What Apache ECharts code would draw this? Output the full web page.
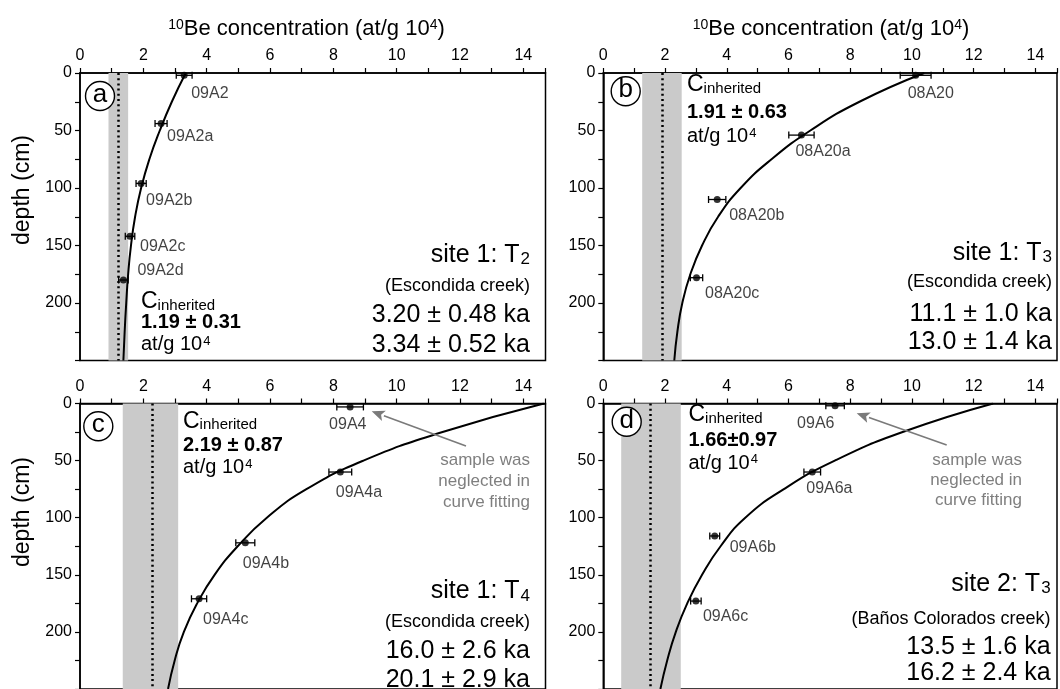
<!DOCTYPE html>
<html><head><meta charset="utf-8">
<script src="https://cdn.jsdelivr.net/npm/echarts@6/dist/echarts.min.js"></script>
<style>html,body{margin:0;padding:0;background:#fff}#c{width:1060px;height:689px}</style>
</head><body><div id="c"></div>
<script>
// ================= DATA =================
// concentration axis (10Be, at/g 10^4) and depth axis (cm)
const concMax = 14.7;
const depthMax = 250;
const curveDepths = [0, 25, 50, 75, 100, 125, 150, 175, 200, 225, 250];

// panel a : site 1 T2
const namesA = ['09A2', '09A2a', '09A2b', '09A2c', '09A2d'];
const concA  = [3.29, 2.56, 1.93, 1.58, 1.37];
const depthA = [2, 44, 96, 142, 180];
const errA   = [0.25, 0.19, 0.16, 0.15, 0.15];
const curveA = [3.34, 2.90, 2.52, 2.19, 1.93, 1.74, 1.61, 1.52, 1.46, 1.41, 1.37];
const bandA  = [0.90, 1.52];
const inhA   = 1.22;

// panel b : site 1 T3
const namesB = ['08A20', '08A20a', '08A20b', '08A20c'];
const concB  = [10.12, 6.42, 3.69, 3.02];
const depthB = [2, 54, 110, 178];
const errB   = [0.50, 0.41, 0.28, 0.20];
const curveB = [10.4, 8.3, 6.71, 5.45, 4.45, 3.72, 3.20, 2.82, 2.56, 2.40, 2.30];
const bandB  = [1.26, 2.54];
const inhB   = 1.92;

// panel c : site 1 T4
const namesC = ['09A4', '09A4a', '09A4b', '09A4c'];
const concC  = [8.53, 8.22, 5.22, 3.76];
const depthC = [3, 60, 122, 171];
const errC   = [0.42, 0.36, 0.30, 0.24];
const curveC = [14.65, 11.45, 8.95, 7.15, 5.90, 4.98, 4.25, 3.70, 3.28, 2.99, 2.78];
const bandC  = [1.35, 3.10];
const inhC   = 2.28;

// panel d : site 2 T3
const namesD = ['09A6', '09A6a', '09A6b', '09A6c'];
const concD  = [7.51, 6.77, 3.61, 3.00];
const depthD = [2, 60, 116, 173];
const errD   = [0.30, 0.27, 0.16, 0.17];
const curveD = [12.63, 9.70, 7.50, 5.85, 4.60, 3.80, 3.20, 2.72, 2.35, 2.07, 1.85];
const bandD  = [0.58, 2.51];
const inhD   = 1.51;

// texts
const panelLetters = ['a', 'b', 'c', 'd'];
const inhValues = ['1.19 ± 0.31', '1.91 ± 0.63', '2.19 ± 0.87', '1.66±0.97'];
const siteNames = ['site 1: T{sub|2}', 'site 1: T{sub|3}', 'site 1: T{sub|4}', 'site 2: T{sub|3}'];
const creeks = ['(Escondida creek)', '(Escondida creek)', '(Escondida creek)', '(Baños Colorados creek)'];
const ages1 = ['3.20 ± 0.48 ka', '11.1 ± 1.0 ka', '16.0 ± 2.6 ka', '13.5 ± 1.6 ka'];
const ages2 = ['3.34 ± 0.52 ka', '13.0 ± 1.4 ka', '20.1 ± 2.9 ka', '16.2 ± 2.4 ka'];
const noteLines = ['sample was', 'neglected in', 'curve fitting'];

// ================= LAYOUT =================
const FONT = '"Liberation Sans", Arial, Helvetica, sans-serif';
const G = [
  {left: 80,    top: 73},
  {left: 603.3, top: 73},
  {left: 80,    top: 403.5},
  {left: 603.3, top: 403.5}
];
const GW = 465.5, GH = 287.5;

const panels = [
  {names: namesA, conc: concA, depth: depthA, err: errA, curve: curveA, band: bandA, inh: inhA,
   lab: [[7,18],[6,13],[5,17],[10,10],[14,-9]]},
  {names: namesB, conc: concB, depth: depthB, err: errB, curve: curveB, band: bandB, inh: inhB,
   lab: [[-8,18],[-6,16],[12,16],[8.5,16]]},
  {names: namesC, conc: concC, depth: depthC, err: errC, curve: curveC, band: bandC, inh: inhC,
   lab: [[-21,18],[-4.5,21],[-2.5,21],[4,21]]},
  {names: namesD, conc: concD, depth: depthD, err: errD, curve: curveD, band: bandD, inh: inhD,
   lab: [[-38,18],[-6,17],[15,12],[7,16]]}
];

// annotation layout (pixel positions)
const circlePos = [[100, 96], [625.7, 91.3], [98.3, 426.3], [626.7, 421.7]];
const inhPos = [
  {x: 141, y: [301.7, 322.3, 344.7]},
  {x: 687, y: [84.5, 112.5, 136.5]},
  {x: 183, y: [421.3, 445, 467.5]},
  {x: 688.5, y: [415, 440, 463.3]}
];
const sitePos = [
  {x: 530, y: [255, 286, 315.4, 344.7]},
  {x: 1052, y: [253, 282.1, 314.2, 342]},
  {x: 530, y: [591.5, 622.5, 650.7, 680.4]},
  {x: 1050.6, y: [584, 619.2, 646.9, 673.3]}
];
const arrows = [
  {head: [371.7, 411.3], tail: [466, 446], tx: 530, ty: [460.7, 481.3, 502]},
  {head: [856.7, 413.3], tail: [946.7, 445], tx: 1022, ty: [460, 480, 500]}
];

// ================= OPTION =================
const grid = [], xAxis = [], yAxis = [], series = [], graphic = [];

panels.forEach((p, i) => {
  grid.push({left: G[i].left, top: G[i].top, width: GW, height: GH,
    show: true, borderColor: '#000', borderWidth: 1.5, backgroundColor: 'transparent'});
  xAxis.push({
    gridIndex: i, type: 'value', position: 'top', min: 0, max: concMax, interval: 1,
    axisLine: {show: true, onZero: false, lineStyle: {color: '#000', width: 1.5}},
    axisTick: {show: true, length: 5, lineStyle: {color: '#000', width: 1.2}},
    axisLabel: {margin: 9, color: '#000', fontSize: 16, fontFamily: FONT,
      formatter: v => { const r = Math.round(v); return (Math.abs(v - r) < 1e-6 && r % 2 === 0) ? String(r) : ''; }},
    splitLine: {show: false}
  });
  yAxis.push({
    gridIndex: i, type: 'value', inverse: true, min: 0, max: depthMax, interval: 25,
    axisLine: {show: true, onZero: false, lineStyle: {color: '#000', width: 1.5}},
    axisTick: {show: true, length: 5, lineStyle: {color: '#000', width: 1.2}},
    axisLabel: {margin: 8, color: '#000', fontSize: 16, fontFamily: FONT,
      formatter: v => (v % 50 === 0 && v <= 200) ? String(v) : ''},
    splitLine: {show: false}
  });

  // inherited band + dotted line
  series.push({
    type: 'line', xAxisIndex: i, yAxisIndex: i, data: [], z: 1, silent: true,
    markArea: {silent: true, itemStyle: {color: '#cacaca'},
      data: [[{xAxis: p.band[0]}, {xAxis: p.band[1]}]]},
    markLine: {silent: true, symbol: 'none', label: {show: false},
      lineStyle: {color: '#000', width: 2.5, type: [2, 3.2], cap: 'butt'},
      data: [{xAxis: p.inh}]}
  });
  // fitted curve
  series.push({
    type: 'line', xAxisIndex: i, yAxisIndex: i, z: 3, silent: true,
    data: p.curve.map((c, k) => [c, curveDepths[k]]),
    smooth: 0.5, showSymbol: false, symbol: 'none',
    lineStyle: {color: '#000', width: 2}
  });
  // error bars
  series.push({
    type: 'custom', xAxisIndex: i, yAxisIndex: i, z: 4, silent: true,
    data: p.conc.map((c, k) => [c, p.depth[k], p.err[k]]),
    encode: {x: 0, y: 1},
    renderItem: (params, api) => {
      const x = api.value(0), y = api.value(1), e = api.value(2);
      const l = api.coord([x - e, y]), r = api.coord([x + e, y]);
      const st = {stroke: '#000', lineWidth: 1.3};
      const h = 3.5;
      return {type: 'group', children: [
        {type: 'line', shape: {x1: l[0], y1: l[1], x2: r[0], y2: r[1]}, style: st},
        {type: 'line', shape: {x1: l[0], y1: l[1] - h, x2: l[0], y2: l[1] + h}, style: st},
        {type: 'line', shape: {x1: r[0], y1: r[1] - h, x2: r[0], y2: r[1] + h}, style: st}
      ]};
    }
  });
  // sample points
  series.push({
    type: 'scatter', xAxisIndex: i, yAxisIndex: i, z: 5, silent: true,
    symbolSize: 7, itemStyle: {color: '#000'},
    data: p.conc.map((c, k) => ({
      value: [c, p.depth[k]], name: p.names[k],
      label: {offset: p.lab[k]}
    })),
    label: {show: true, position: 'inside', align: 'left', verticalAlign: 'middle',
      formatter: '{b}', color: '#111', fontSize: 16, fontFamily: FONT}
  });

  // panel letter in circle
  graphic.push({type: 'circle', silent: true, shape: {cx: circlePos[i][0], cy: circlePos[i][1], r: 14.5},
    style: {fill: '#fff', stroke: '#000', lineWidth: 1.4}, z: 10});
  graphic.push({type: 'text', silent: true, x: circlePos[i][0], y: circlePos[i][1] - 1, z: 11,
    style: {text: panelLetters[i], fontSize: 26, fontFamily: FONT, fill: '#000', align: 'center', verticalAlign: 'middle'}});

  // C inherited block
  const ip = inhPos[i];
  graphic.push({type: 'text', silent: true, x: ip.x, y: ip.y[0], z: 10,
    style: {text: 'C{sub|inherited}', fontSize: 23, fontFamily: FONT, fill: '#000', align: 'left', verticalAlign: 'middle',
      rich: {sub: {fontSize: 15, fontFamily: FONT, fill: '#000', verticalAlign: 'bottom', padding: [8, 0, 0, 0]}}}});
  graphic.push({type: 'text', silent: true, x: ip.x, y: ip.y[1], z: 10,
    style: {text: inhValues[i], fontSize: 20, fontWeight: 'bold', fontFamily: FONT, fill: '#000', align: 'left', verticalAlign: 'middle'}});
  graphic.push({type: 'text', silent: true, x: ip.x, y: ip.y[2], z: 10,
    style: {text: 'at/g 10{sup|4}', fontSize: 20, fontFamily: FONT, fill: '#000', align: 'left', verticalAlign: 'middle',
      rich: {sup: {fontSize: 13, fontFamily: FONT, fill: '#000', verticalAlign: 'top', padding: [0, 0, 6, 1]}}}});

  // site block
  const sp = sitePos[i];
  graphic.push({type: 'text', silent: true, x: sp.x, y: sp.y[0], z: 10,
    style: {text: siteNames[i], fontSize: 25, fontFamily: FONT, fill: '#000', align: 'right', verticalAlign: 'middle',
      rich: {sub: {fontSize: 17, fontFamily: FONT, fill: '#000', verticalAlign: 'bottom', padding: [9, 0, 0, 1]}}}});
  graphic.push({type: 'text', silent: true, x: sp.x, y: sp.y[1], z: 10,
    style: {text: creeks[i], fontSize: 18, fontFamily: FONT, fill: '#000', align: 'right', verticalAlign: 'middle'}});
  graphic.push({type: 'text', silent: true, x: sp.x, y: sp.y[2], z: 10,
    style: {text: ages1[i], fontSize: 25, fontFamily: FONT, fill: '#000', align: 'right', verticalAlign: 'middle'}});
  graphic.push({type: 'text', silent: true, x: sp.x, y: sp.y[3], z: 10,
    style: {text: ages2[i], fontSize: 25, fontFamily: FONT, fill: '#000', align: 'right', verticalAlign: 'middle'}});
});

// axis titles
[[306.5, 29], [831, 29]].forEach(pt => {
  graphic.push({type: 'text', silent: true, x: pt[0], y: pt[1], z: 10,
    style: {text: '{sup|10}Be concentration (at/g 10{sup|4})', fontSize: 22, fontFamily: FONT, fill: '#000',
      align: 'center', verticalAlign: 'middle',
      rich: {sup: {fontSize: 14, fontFamily: FONT, fill: '#000', verticalAlign: 'top', padding: [0, 0, 7, 0]}}}});
});
[[23, 190], [23, 512]].forEach(pt => {
  graphic.push({type: 'text', silent: true, x: pt[0], y: pt[1], rotation: Math.PI / 2, z: 10,
    style: {text: 'depth (cm)', fontSize: 23, fontFamily: FONT, fill: '#000', align: 'center', verticalAlign: 'middle'}});
});

// arrows + notes
arrows.forEach(a => {
  const dx = a.head[0] - a.tail[0], dy = a.head[1] - a.tail[1];
  const len = Math.hypot(dx, dy), ux = dx / len, uy = dy / len;
  const hl = 13, hw = 5.5;
  const bx = a.head[0] - ux * hl, by = a.head[1] - uy * hl;
  graphic.push({type: 'line', silent: true, z: 9,
    shape: {x1: a.tail[0], y1: a.tail[1], x2: bx, y2: by}, style: {stroke: '#7a7a7a', lineWidth: 1.6}});
  graphic.push({type: 'polygon', silent: true, z: 9,
    shape: {points: [a.head, [bx - uy * hw, by + ux * hw], [bx + ux * 3, by + uy * 3], [bx + uy * hw, by - ux * hw]]},
    style: {fill: '#7a7a7a'}});
  noteLines.forEach((t, k) => {
    graphic.push({type: 'text', silent: true, x: a.tx, y: a.ty[k], z: 10,
      style: {text: t, fontSize: 17, fontFamily: FONT, fill: '#7f7f7f', align: 'right', verticalAlign: 'middle'}});
  });
});

const chart = echarts.init(document.getElementById('c'), null, {renderer: 'canvas'});
chart.setOption({
  backgroundColor: '#fff',
  animation: false,
  grid, xAxis, yAxis, series, graphic
});
</script>
</body></html>
